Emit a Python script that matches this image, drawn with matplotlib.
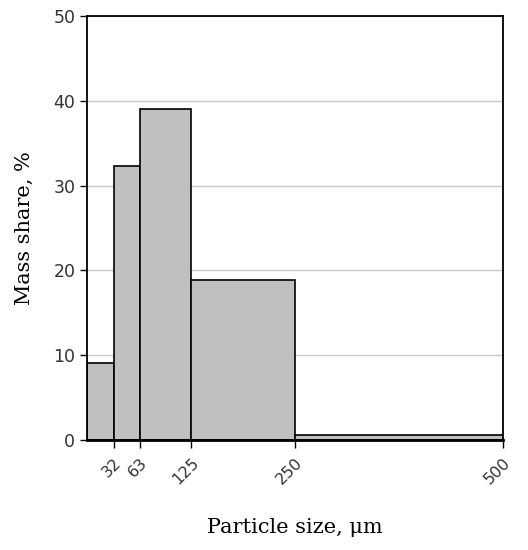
import matplotlib
matplotlib.use("Agg")
import matplotlib.pyplot as plt

bin_edges = [0, 32, 63, 125, 250, 500]
mass_share = [9.1, 32.3, 39.0, 18.9, 0.6]
xtick_vals = [32, 63, 125, 250, 500]
ytick_vals = [0, 10, 20, 30, 40, 50]

fig = plt.figure(figsize=(5.28, 5.5), dpi=100)
ax = fig.add_axes([0.165, 0.2, 0.788, 0.771])

lefts = bin_edges[:-1]
widths = [b - a for a, b in zip(bin_edges[:-1], bin_edges[1:])]
ax.bar(lefts, mass_share, width=widths, align='edge', color='#c0c0c0',
       edgecolor='black', linewidth=1.2, zorder=3)

ax.set_xlim(0, 500)
ax.set_ylim(0, 50)
ax.set_yticks(ytick_vals)
ax.set_xticks(xtick_vals)
ax.set_xticklabels([str(v) for v in xtick_vals], rotation=45, ha='right',
                   rotation_mode='anchor', fontsize=11.5, color='#333333')
ax.tick_params(axis='y', labelsize=12.5, labelcolor='#333333', length=5, width=1)
ax.tick_params(axis='x', length=6, width=1, pad=5)
ax.grid(axis='y', color='#c8c8c8', linewidth=1, zorder=0)
ax.set_axisbelow(True)
for s in ax.spines.values():
    s.set_linewidth(1.3)
    s.set_zorder(4)
ax.spines['bottom'].set_linewidth(2)

ax.set_xlabel('Particle size, μm', family='DejaVu Serif', fontsize=15, labelpad=22)
ax.set_ylabel('Mass share, %', family='DejaVu Serif', fontsize=15, labelpad=14)

fig.savefig('out.png', dpi=100)
